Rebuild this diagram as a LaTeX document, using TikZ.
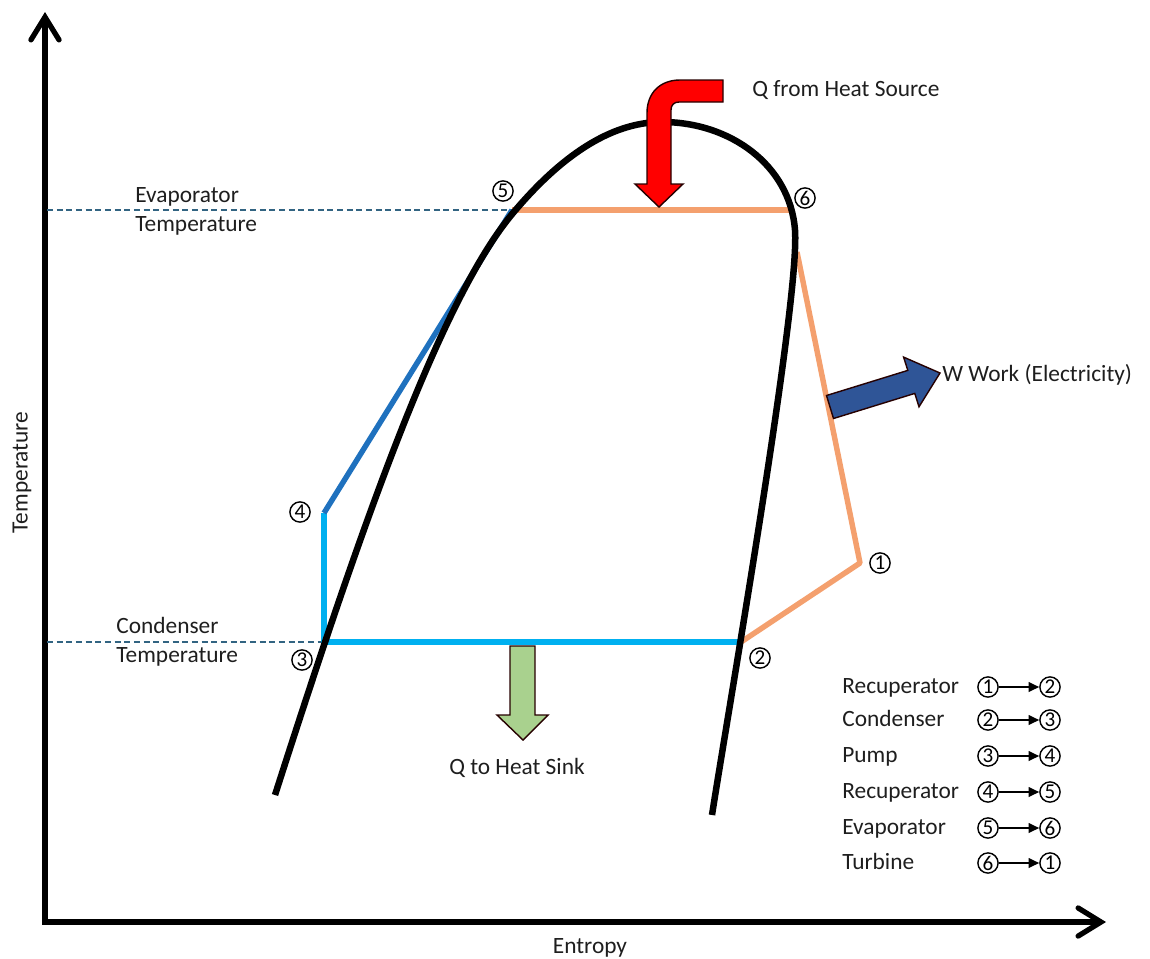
\documentclass[tikz,border=0pt]{standalone}
\usepackage{fontspec}
\setmainfont{Carlito}
\usetikzlibrary{arrows.meta}
\definecolor{heatred}{RGB}{255,0,0}
\definecolor{pumpblue}{RGB}{0,176,240}
\definecolor{recupblue}{RGB}{31,113,190}
\definecolor{hotorange}{RGB}{244,160,110}
\definecolor{workblue}{RGB}{47,85,151}
\definecolor{sinkgreen}{RGB}{169,209,142}
\definecolor{guideteal}{RGB}{50,100,130}
\definecolor{txtgray}{RGB}{30,30,30}

\begin{document}
\begin{tikzpicture}[x=0.02cm,y=-0.02cm,
    lbl/.style={text=txtgray,font=\fontsize{13.3}{16}\selectfont,inner sep=0pt,yshift=-1.5pt},
    num/.style={circle,draw,line width=0.8pt,inner sep=0pt,minimum size=11.5pt,font=\fontsize{12}{12}\selectfont},
    axis/.style={line width=3pt,line join=miter,{Straight Barb[length=13pt,width=16pt,line cap=round]}-{Straight Barb[length=13pt,width=16pt,line cap=round]}},
    dome/.style={line width=3.7pt,line join=round},
    cyc/.style={line width=3.1pt},
    guide/.style={guideteal,line width=0.8pt,dash pattern=on 3.5pt off 2pt},
    bigarrow/.style={draw=black!85!red,line width=0.8pt,line join=miter}]
    \useasboundingbox (0,0) rectangle (1150,958);

    % axes
    \coordinate (ytop) at (45,12);
    \coordinate (origin) at (45,922);
    \coordinate (xend) at (1106,922);
    \draw[axis] (ytop) -- (origin) -- (xend);
    \node[lbl,rotate=90] (tlabel) at (22,470) {Temperature};
    \node[lbl] (slabel) at (590,945) {Entropy};

    % cycle states
    \coordinate (p1) at (860,563);
    \coordinate (p2) at (741,642);
    \coordinate (p3) at (324,642);
    \coordinate (p4) at (324,513);
    \coordinate (p5) at (512,210);
    \coordinate (p6) at (790,210);
    \coordinate (p6b) at (797,252);
    \coordinate (evapT) at (47,210);
    \coordinate (condT) at (47,642);

    \draw[guide] (evapT) -- (p5);
    \draw[guide] (condT) -- (p3);

    \draw[cyc,hotorange] (p5) -- (p6);
    \draw[cyc,hotorange,line join=round] (p6b) -- (p1) -- (p2);
    \draw[cyc,pumpblue] (p2) -- (p3) -- (p4);
    \draw[cyc,recupblue] (p4) -- (p5);

    % saturation dome
    \draw[dome] (275,795) .. controls (360,530) and (440,300) .. (513,213)
        .. controls (560,157) and (610,122) .. (662,122)
        .. controls (730,122) and (790,165) .. (795,230)
        .. controls (800,300) and (730,700) .. (712,815);

    % heat in, heat out, work
    \draw[bigarrow,fill=heatred] (723,80) -- (680,80) .. controls (660,80) and (647,93) .. (647,113)
        -- (647,184) -- (635,184) -- (659,207) -- (683,184) -- (671,184) -- (671,110)
        .. controls (671,105) and (674,102) .. (679,102) -- (723,102) -- cycle;
    \draw[bigarrow,fill=sinkgreen] (510,646) -- (535,646) -- (535,715) -- (548,715) -- (523,740)
        -- (497,715) -- (510,715) -- cycle;
    \draw[bigarrow,fill=workblue] (826.5,395.5) -- (907.8,370.4) -- (903.6,357.1) -- (940,373)
        -- (919,406.8) -- (914.8,393.4) -- (833.5,418.5) -- cycle;

    \node[lbl,anchor=mid west] (qin) at (752,90) {Q from Heat Source};
    \node[lbl] (qout) at (517,765) {Q to Heat Sink};
    \node[lbl,anchor=mid west] (wout) at (942,375) {W Work (Electricity)};

    \node[lbl,anchor=mid west] (evapA) at (135,196) {Evaporator};
    \node[lbl,anchor=mid west] (evapB) at (135,225) {Temperature};
    \node[lbl,anchor=mid west] (condA) at (116,627) {Condenser};
    \node[lbl,anchor=mid west] (condB) at (116,656) {Temperature};

    \node[num] (n1) at (880,563) {1};
    \node[num] (n2) at (760,658) {2};
    \node[num] (n3) at (302,660) {3};
    \node[num] (n4) at (300,512) {4};
    \node[num] (n5) at (503,191) {5};
    \node[num] (n6) at (805,198) {6};

    % legend
    \foreach \y/\name/\a/\b [count=\i] in {687/Recuperator/1/2,720/Condenser/2/3,756/Pump/3/4,792/Recuperator/4/5,828/Evaporator/5/6,863/Turbine/6/1} {
        \node[lbl,anchor=mid west] (leg\i) at (842,\y) {\name};
        \node[num] (from\i) at (988,\y) {\a};
        \node[num] (to\i) at (1050,\y) {\b};
        \draw[-{Triangle[length=6pt,width=5.5pt]},line width=0.9pt] (from\i) -- (to\i);
    }
\end{tikzpicture}
\end{document}
